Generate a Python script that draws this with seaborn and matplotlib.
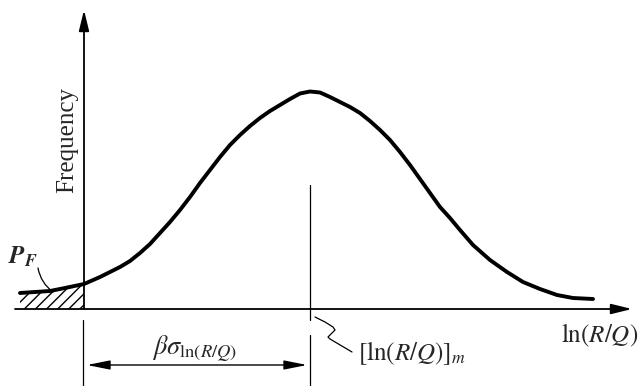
import numpy as np
import pandas as pd
import matplotlib
matplotlib.use("Agg")
import matplotlib.pyplot as plt
import seaborn as sns

# Courbe de frequence (unites arbitraires, origine = axe vertical)
ln_rq = [-0.64, -0.49, -0.34, -0.19, 0.00, 0.16, 0.26, 0.36, 0.46, 0.56,
         0.66, 0.76, 0.86, 0.96, 1.06, 1.16, 1.26, 1.36, 1.46, 1.56,
         1.66, 1.76, 1.86, 1.96, 2.06, 2.16, 2.26, 2.36, 2.46, 2.56,
         2.66, 2.76, 2.86, 2.96, 3.06, 3.16, 3.26, 3.36, 3.46, 3.56,
         3.66, 3.76, 3.89, 4.06, 4.23, 4.39, 4.56, 4.73, 4.89, 5.09]
freq = [0.16, 0.17, 0.18, 0.21, 0.25, 0.32, 0.37, 0.42, 0.48, 0.56,
        0.65, 0.76, 0.87, 0.99, 1.12, 1.26, 1.39, 1.52, 1.64, 1.74,
        1.83, 1.91, 1.98, 2.04, 2.10, 2.155, 2.175, 2.165, 2.12, 2.07,
        2.02, 1.96, 1.88, 1.79, 1.69, 1.57, 1.44, 1.30, 1.16, 1.02,
        0.91, 0.79, 0.64, 0.49, 0.37, 0.27, 0.20, 0.14, 0.11, 0.10]

median = 2.26        # [ln(R/Q)]_m
beta_sigma = 2.26    # distance entre l'origine et la mediane

sns.set_theme(style="white")
plt.rcParams['font.family'] = ['Liberation Serif', 'DejaVu Serif']
plt.rcParams['mathtext.fontset'] = 'stix'
plt.rcParams['hatch.linewidth'] = 1.0

df = pd.DataFrame({"ln_rq": ln_rq, "freq": freq})

fig = plt.figure(figsize=(6.42, 3.86), dpi=100)
ax = fig.add_axes([0, 0, 1, 1])
ax.set_xlim(-0.84, 5.58)
ax.set_ylim(-0.77, 3.09)
ax.axis("off")

# zone hachuree P_F (queue a gauche de l'origine)
tail = df[df.ln_rq <= 0]
ax.fill_between(tail.ln_rq, 0, tail.freq, facecolor="none", edgecolor="black",
                hatch="///", linewidth=0)

sns.lineplot(data=df, x="ln_rq", y="freq", color="black", lw=2.8,
             estimator=None, sort=False, ax=ax,
             solid_capstyle="round", solid_joinstyle="round")

# axes avec fleches
axis_arrow = dict(arrowstyle="-|>,head_length=0.9,head_width=0.22",
                  color="black", lw=1.3, mutation_scale=14, shrinkA=0, shrinkB=0)
ax.annotate("", xy=(5.48, 0), xytext=(-0.69, 0), arrowprops=axis_arrow)
ax.annotate("", xy=(0, 2.99), xytext=(0, 0), arrowprops=axis_arrow)

# ligne de la mediane et lignes de rappel
ax.plot([median, median], [1.24, -0.11], color="black", lw=0.9)
ax.plot([median, median], [-0.26, -0.77], color="black", lw=0.9)
ax.plot([median - beta_sigma - 0.01] * 2, [-0.11, -0.77], color="black", lw=0.9)

# cote beta*sigma
ax.annotate("", xy=(median - 0.03, -0.56), xytext=(median - beta_sigma + 0.03, -0.56),
            arrowprops=dict(arrowstyle="<|-|>,head_length=1.0,head_width=0.2",
                            color="black", lw=1.0, mutation_scale=14,
                            shrinkA=0, shrinkB=0))

# trait ondule vers l'etiquette de la mediane
sq_dx = [0.05, 0.15, 0.23, 0.25, 0.22, 0.18, 0.20, 0.42]
sq_y = [-0.08, -0.13, -0.18, -0.21, -0.24, -0.28, -0.30, -0.43]
ax.plot([median + d for d in sq_dx], sq_y, color="black", lw=0.9)

# trait vers P_F
ax.annotate("", xy=(-0.31, 0.17), xytext=(-0.46, 0.41),
            arrowprops=dict(arrowstyle="-", color="black", lw=0.9,
                            connectionstyle="arc3,rad=0.2",
                            shrinkA=0, shrinkB=0))

# textes
ax.text(-0.17, 1.69, "Frequency", rotation=90, ha="center", va="center",
        fontsize=18)
ax.text(5.16, -0.26, r"$\mathrm{ln}(R/Q)$", ha="center", va="center",
        fontsize=18)
ax.text(2.74, -0.44, r"$[\mathrm{ln}(R/Q)]_m$", ha="left", va="center",
        fontsize=18)
ax.text(1.11, -0.40, r"$\beta\sigma_{\mathrm{ln}(R/Q)}$", ha="center",
        va="center", fontsize=19)
ax.text(-0.76, 0.52, r"$\mathbfit{P}_\mathbfit{F}$", ha="left", va="center",
        fontsize=18)

fig.savefig("out.png", dpi=100)
